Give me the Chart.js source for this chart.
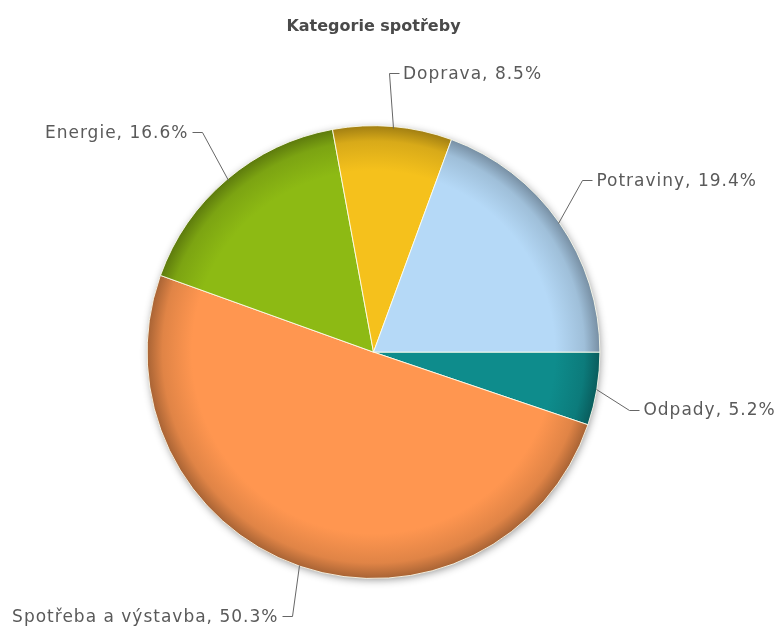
<!DOCTYPE html>
<html>
<head>
<meta charset="utf-8">
<script src="https://cdn.jsdelivr.net/npm/chart.js@4/dist/chart.umd.min.js"></script>
<style>
  html, body { margin: 0; padding: 0; background: #fff; }
  #wrap { width: 777px; height: 627px; }
</style>
</head>
<body>
<div id="wrap"><canvas id="pieChart"></canvas></div>
<script>
// data, clockwise from 3 o'clock
var categories = ["Odpady", "Spotřeba a výstavba", "Energie", "Doprava", "Potraviny"];
var shares = [5.2, 50.3, 16.6, 8.5, 19.4];
var colors = ["#0e8c8c", "#ff9650", "#8dba14", "#f5c11c", "#b5d9f7"];
var title = "Kategorie spotřeby";

// label placement: angle nudge (deg) and distance beyond the rim (px)
var labelAngleNudge = [3.4, -2.2, 2.4, -1.7, -4.5];
var labelDistance = [36, 50, 52, 53, 44];

function shade(hex, f) {
    var n = parseInt(hex.slice(1), 16);
    var r = (n >> 16) & 255, g = (n >> 8) & 255, b = n & 255;
    r = Math.round(r * (1 - f)); g = Math.round(g * (1 - f)); b = Math.round(b * (1 - f));
    return "rgb(" + r + "," + g + "," + b + ")";
}

function sliceFill(context) {
    var base = colors[context.dataIndex];
    var area = context.chart.chartArea;
    if (!area) return base;
    var cx = (area.left + area.right) / 2;
    var cy = (area.top + area.bottom) / 2;
    var r = Math.min(area.right - area.left, area.bottom - area.top) / 2;
    var g = context.chart.ctx.createRadialGradient(cx, cy, 0, cx, cy, r);
    g.addColorStop(0, base);
    g.addColorStop(0.8, base);
    g.addColorStop(0.93, shade(base, 0.12));
    g.addColorStop(1, shade(base, 0.35));
    return g;
}

var pieLabels = {
    id: 'pieLabels',
    beforeDatasetsDraw: function (chart) {
        var arc = chart.getDatasetMeta(0).data[0];
        if (!arc) return;
        var ctx = chart.ctx;
        ctx.save();
        ctx.shadowColor = 'rgba(0,0,0,0.45)';
        ctx.shadowBlur = 9;
        ctx.shadowOffsetX = 1;
        ctx.shadowOffsetY = 2;
        ctx.beginPath();
        ctx.arc(arc.x, arc.y, arc.outerRadius - 1, 0, Math.PI * 2);
        ctx.fillStyle = '#ffffff';
        ctx.fill();
        ctx.restore();
    },
    afterDatasetsDraw: function (chart) {
        var ctx = chart.ctx;
        var meta = chart.getDatasetMeta(0);
        ctx.save();
        ctx.font = '17px "DejaVu Sans", Verdana, sans-serif';
        ctx.letterSpacing = '1px';
        ctx.fillStyle = '#5a5a5a';
        ctx.strokeStyle = '#666666';
        ctx.lineWidth = 1;
        ctx.textBaseline = 'middle';
        meta.data.forEach(function (arc, i) {
            var mid = (arc.startAngle + arc.endAngle) / 2;
            var r = arc.outerRadius;
            var x0 = arc.x + (r - 1) * Math.cos(mid), y0 = arc.y + (r - 1) * Math.sin(mid);
            var la = mid + labelAngleNudge[i] * Math.PI / 180;
            var x1 = arc.x + (r + labelDistance[i]) * Math.cos(la);
            var y1 = arc.y + (r + labelDistance[i]) * Math.sin(la);
            var dir = Math.cos(mid) >= 0 ? 1 : -1;
            var x2 = x1 + dir * 10;
            ctx.beginPath();
            ctx.moveTo(Math.round(x0) + 0.5, Math.round(y0) + 0.5);
            ctx.lineTo(Math.round(x1) + 0.5, Math.round(y1) + 0.5);
            ctx.lineTo(Math.round(x2) + 0.5, Math.round(y1) + 0.5);
            ctx.stroke();
            ctx.textAlign = dir > 0 ? 'left' : 'right';
            ctx.fillText(categories[i] + ', ' + shares[i].toFixed(1) + '%', x2 + dir * 4, y1 + 1);
        });
        ctx.restore();
    }
};

var chart = new Chart(document.getElementById('pieChart'), {
    type: 'pie',
    data: {
        labels: categories,
        datasets: [{
            data: shares,
            backgroundColor: sliceFill,
            borderColor: 'rgba(255,255,240,0.85)',
            borderWidth: 1
        }]
    },
    options: {
        responsive: true,
        maintainAspectRatio: false,
        animation: false,
        rotation: 90,
        layout: { padding: { left: 0, right: 30, top: 0, bottom: 48 } },
        plugins: {
            legend: { display: false },
            tooltip: { enabled: false },
            title: {
                display: true,
                text: title,
                color: '#4a4a4a',
                font: { family: '"DejaVu Sans", Verdana, sans-serif', size: 16, weight: 'bold' },
                padding: { top: 17, bottom: 89 }
            }
        }
    },
    plugins: [pieLabels]
});
</script>
</body>
</html>
